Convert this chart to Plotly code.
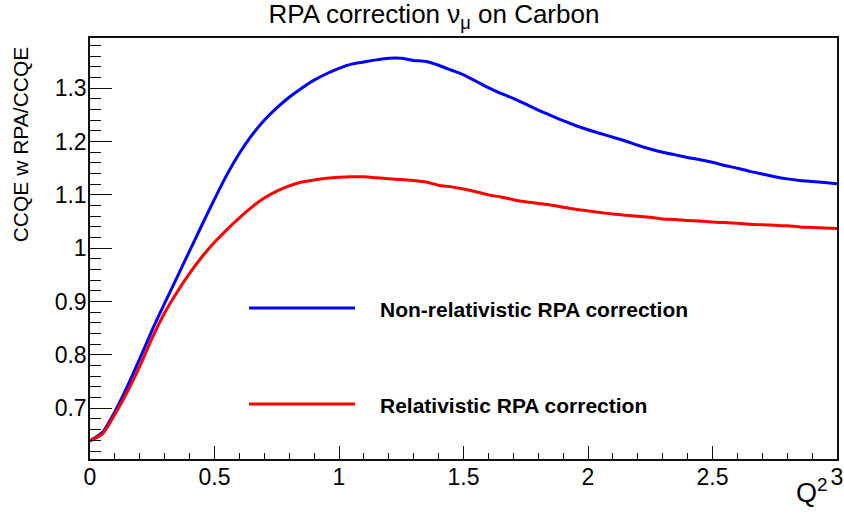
import plotly.graph_objects as go

# Q^2 sampling grid (GeV^2)
q2 = [0.00, 0.05, 0.10, 0.15, 0.20, 0.25, 0.30, 0.35, 0.40, 0.45,
      0.50, 0.55, 0.60, 0.65, 0.70, 0.75, 0.80, 0.85, 0.90, 0.95,
      1.00, 1.05, 1.10, 1.15, 1.20, 1.25, 1.30, 1.35, 1.40, 1.45,
      1.50, 1.55, 1.60, 1.65, 1.70, 1.75, 1.80, 1.85, 1.90, 1.95,
      2.00, 2.05, 2.10, 2.15, 2.20, 2.25, 2.30, 2.35, 2.40, 2.45,
      2.50, 2.55, 2.60, 2.65, 2.70, 2.75, 2.80, 2.85, 2.90, 2.95,
      3.00]

# CCQE with RPA / CCQE, non-relativistic RPA
ratio_nonrel = [0.639, 0.655, 0.694, 0.741, 0.793, 0.847, 0.897, 0.946, 0.995, 1.044,
                1.092, 1.138, 1.178, 1.212, 1.240, 1.263, 1.283, 1.300, 1.315, 1.327,
                1.337, 1.345, 1.349, 1.353, 1.356, 1.356, 1.352, 1.350, 1.343, 1.334,
                1.325, 1.313, 1.301, 1.290, 1.281, 1.270, 1.259, 1.249, 1.239, 1.230,
                1.222, 1.215, 1.208, 1.201, 1.193, 1.186, 1.180, 1.175, 1.170, 1.166,
                1.161, 1.155, 1.150, 1.144, 1.139, 1.134, 1.130, 1.127, 1.125, 1.123,
                1.121]

# CCQE with RPA / CCQE, relativistic RPA
ratio_rel = [0.639, 0.652, 0.689, 0.731, 0.779, 0.832, 0.879, 0.918, 0.953, 0.984,
             1.011, 1.035, 1.057, 1.077, 1.094, 1.107, 1.117, 1.124, 1.128, 1.131,
             1.133, 1.134, 1.134, 1.132, 1.130, 1.129, 1.127, 1.124, 1.118, 1.115,
             1.111, 1.106, 1.100, 1.096, 1.091, 1.087, 1.084, 1.081, 1.077, 1.073,
             1.070, 1.067, 1.064, 1.062, 1.060, 1.058, 1.055, 1.054, 1.052, 1.051,
             1.049, 1.048, 1.047, 1.045, 1.044, 1.043, 1.042, 1.040, 1.039, 1.038,
             1.037]

series_names = ["Non-relativistic RPA correction", "Relativistic RPA correction"]
series_colors = ["#0000ff", "#ff0000"]

FONT = "Liberation Sans, Arial, Helvetica, sans-serif"

fig = go.Figure()
for name, ys, col in zip(series_names, [ratio_nonrel, ratio_rel], series_colors):
    fig.add_trace(go.Scatter(x=q2, y=ys, mode="lines", name=name,
                             line=dict(color=col, width=3, shape="spline", smoothing=0.6),
                             showlegend=False))

axis_common = dict(
    showgrid=False, zeroline=False, showline=True, mirror=True, automargin=False,
    linecolor="#111", linewidth=1.5, ticks="inside", tickcolor="#111",
    tickwidth=1.2, tickfont=dict(family=FONT, size=23, color="black"),
)

fig.update_xaxes(range=[0, 3], dtick=0.5, tick0=0, ticklen=13,
                 minor=dict(dtick=0.1, tick0=0, ticks="inside", ticklen=6.5,
                            tickcolor="#111", tickwidth=1.2),
                 ticklabelstandoff=-3, **axis_common)
fig.update_yaxes(range=[0.605, 1.394], dtick=0.1, tick0=0, ticklen=22,
                 minor=dict(dtick=0.02, tick0=0, ticks="inside", ticklen=11,
                            tickcolor="#111", tickwidth=1.2),
                 ticklabelstandoff=-3, **axis_common)

annotations = [
    # axis titles placed ROOT-style at the axis ends
    dict(text="Q<sup>2</sup>", xref="paper", yref="paper", x=1.0, y=-0.03,
         xanchor="right", yanchor="top", xshift=-7, showarrow=False,
         font=dict(family=FONT, size=27, color="black")),
    dict(text="CCQE w RPA/CCQE", xref="paper", yref="paper", x=-0.0937, y=0.985,
         xanchor="center", yanchor="top", textangle=-90, showarrow=False,
         font=dict(family=FONT, size=21, color="black")),
]

# legend block: line sample + bold label for each curve
legend_rows = [0.3587, 0.1306]
shapes = []
for name, col, yrow in zip(series_names, series_colors, legend_rows):
    shapes.append(dict(type="line", xref="paper", yref="paper",
                       x0=0.2129, x1=0.3548, y0=yrow, y1=yrow,
                       line=dict(color=col, width=3)))
    annotations.append(dict(text="<b>%s</b>" % name, xref="paper", yref="paper",
                            x=0.3855, y=yrow - 0.004, xanchor="left", yanchor="middle",
                            showarrow=False,
                            font=dict(family=FONT, size=21, color="black")))

fig.update_layout(
    width=844, height=521,
    margin=dict(l=90, r=7, t=38, b=62),
    paper_bgcolor="white", plot_bgcolor="white",
    title=dict(text="RPA correction \u03bd<sub>\u03bc</sub> on Carbon",
               x=434 / 844, xanchor="center", xref="container",
               y=1 - 5 / 521, yanchor="top", yref="container",
               font=dict(family=FONT, size=26, color="black")),
    annotations=annotations, shapes=shapes,
)

fig.write_html("out.html")
